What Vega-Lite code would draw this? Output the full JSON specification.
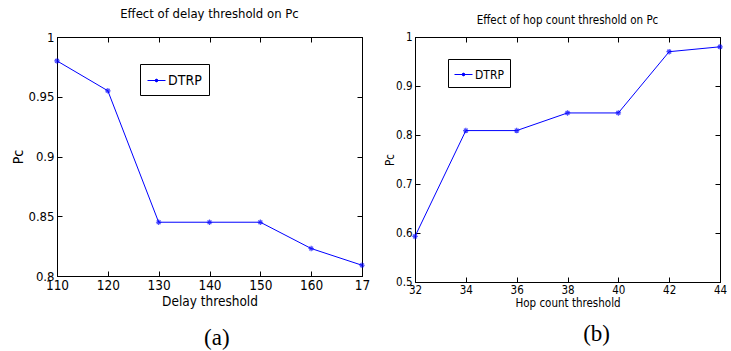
{
  "$schema": "https://vega.github.io/schema/vega-lite/v6.json",
  "background": "white",
  "padding": {"left": 11, "top": 7, "right": 5, "bottom": 0},
  "spacing": 13,
  "resolve": {"scale": {"color": "independent"}, "legend": {"color": "independent"}},
  "config": {
    "view": {"stroke": "black", "strokeWidth": 1},
    "font": "DejaVu Sans Condensed, Liberation Sans, sans-serif",
    "axis": {"grid": false, "domainColor": "black", "tickColor": "black", "labelColor": "black", "titleColor": "black", "labelFont": "DejaVu Sans Condensed, Liberation Sans, sans-serif", "titleFont": "DejaVu Sans Condensed, Liberation Sans, sans-serif", "titleFontWeight": "normal", "tickSize": -5, "labelFlush": false},
    "title": {"font": "DejaVu Sans Condensed, Liberation Sans, sans-serif", "fontWeight": "normal", "color": "black"},
    "legend": {"labelFont": "DejaVu Sans Condensed, Liberation Sans, sans-serif", "labelColor": "black"}
  },
  "hconcat": [
    {
      "title": {"text": "(a)", "orient": "bottom", "anchor": "middle", "font": "Liberation Serif", "fontSize": 23, "dx": 26, "offset": 18},
      "vconcat": [
        {
          "width": 305,
          "height": 239,
          "title": {"text": "Effect of delay threshold on Pc", "fontSize": 13, "offset": 10},
          "data": {"values": [
            {"delay": 110, "pc": 0.98, "series": "DTRP"},
            {"delay": 120, "pc": 0.955, "series": "DTRP"},
            {"delay": 130, "pc": 0.845, "series": "DTRP"},
            {"delay": 140, "pc": 0.845, "series": "DTRP"},
            {"delay": 150, "pc": 0.845, "series": "DTRP"},
            {"delay": 160, "pc": 0.823, "series": "DTRP"},
            {"delay": 170, "pc": 0.809, "series": "DTRP"}
          ]},
          "layer": [
            {
              "mark": {"type": "line", "strokeWidth": 1},
              "encoding": {
                "x": {"field": "delay", "type": "quantitative", "scale": {"domain": [110, 170], "nice": false, "zero": false},
                  "axis": {"title": "Delay threshold", "values": [110, 120, 130, 140, 150, 160, 170], "labelExpr": "datum.value == 170 ? '17' : datum.label", "labelFontSize": 13.5, "titleFontSize": 13.5, "labelPadding": 7, "titlePadding": 3}},
                "y": {"field": "pc", "type": "quantitative", "scale": {"domain": [0.8, 1], "nice": false, "zero": false},
                  "axis": {"title": "Pc", "values": [0.8, 0.85, 0.9, 0.95, 1], "format": "~g", "labelFontSize": 13, "titleFontSize": 14, "labelPadding": 8, "titlePadding": 2}},
                "color": {"field": "series", "type": "nominal", "scale": {"range": ["#0000ff"]},
                  "legend": {"title": null, "orient": "none", "legendX": 83, "legendY": 27, "strokeColor": "black", "fillColor": "white", "padding": 7, "labelFontSize": 14, "symbolType": "M-1,0H1M-0.15,-0.15L0.15,0.15M-0.15,0.15L0.15,-0.15M0,-0.2V0.2", "symbolSize": 324, "symbolStrokeColor": "#0000ff", "symbolFillColor": "transparent", "symbolStrokeWidth": 1, "labelOffset": 2}}
              }
            },
            {
              "mark": {"type": "point", "shape": "M-1,0H1M0,-1V1M-0.7,-0.7L0.7,0.7M-0.7,0.7L0.7,-0.7", "filled": false, "size": 30, "strokeWidth": 1.2},
              "encoding": {
                "x": {"field": "delay", "type": "quantitative", "axis": {"orient": "top", "labels": false, "title": null, "values": [110, 120, 130, 140, 150, 160, 170]}},
                "y": {"field": "pc", "type": "quantitative", "axis": {"orient": "right", "labels": false, "title": null, "values": [0.8, 0.85, 0.9, 0.95, 1]}},
                "color": {"field": "series", "type": "nominal", "legend": null}
              }
            }
          ],
          "resolve": {"axis": {"x": "independent", "y": "independent"}}
        }
      ]
    },
    {
      "title": {"text": "(b)", "orient": "bottom", "anchor": "middle", "font": "Liberation Serif", "fontSize": 23, "dx": 41, "offset": 13},
      "vconcat": [
        {
          "width": 305,
          "height": 245,
          "title": {"text": "Effect of hop count threshold on Pc", "fontSize": 11.5, "offset": 5},
          "data": {"values": [
            {"hop": 32, "pc": 0.593, "series": "DTRP"},
            {"hop": 34, "pc": 0.809, "series": "DTRP"},
            {"hop": 36, "pc": 0.809, "series": "DTRP"},
            {"hop": 38, "pc": 0.845, "series": "DTRP"},
            {"hop": 40, "pc": 0.845, "series": "DTRP"},
            {"hop": 42, "pc": 0.97, "series": "DTRP"},
            {"hop": 44, "pc": 0.98, "series": "DTRP"}
          ]},
          "layer": [
            {
              "mark": {"type": "line", "strokeWidth": 1},
              "encoding": {
                "x": {"field": "hop", "type": "quantitative", "scale": {"domain": [32, 44], "nice": false, "zero": false},
                  "axis": {"title": "Hop count threshold", "values": [32, 34, 36, 38, 40, 42, 44], "labelFontSize": 11.5, "titleFontSize": 11.5, "labelPadding": 7, "titlePadding": 2}},
                "y": {"field": "pc", "type": "quantitative", "scale": {"domain": [0.5, 1], "nice": false, "zero": false},
                  "axis": {"title": "Pc", "values": [0.5, 0.6, 0.7, 0.8, 0.9, 1], "format": "~g", "labelFontSize": 11.5, "titleFontSize": 11.5, "labelPadding": 8, "titlePadding": 0}},
                "color": {"field": "series", "type": "nominal", "scale": {"range": ["#0000ff"]},
                  "legend": {"title": null, "orient": "none", "legendX": 33, "legendY": 22, "strokeColor": "black", "fillColor": "white", "padding": 6, "labelFontSize": 12, "symbolType": "M-1,0H1M-0.15,-0.15L0.15,0.15M-0.15,0.15L0.15,-0.15M0,-0.2V0.2", "symbolSize": 324, "symbolStrokeColor": "#0000ff", "symbolFillColor": "transparent", "symbolStrokeWidth": 1, "labelOffset": 2}}
              }
            },
            {
              "mark": {"type": "point", "shape": "M-1,0H1M0,-1V1M-0.7,-0.7L0.7,0.7M-0.7,0.7L0.7,-0.7", "filled": false, "size": 30, "strokeWidth": 1.2},
              "encoding": {
                "x": {"field": "hop", "type": "quantitative", "axis": {"orient": "top", "labels": false, "title": null, "values": [32, 34, 36, 38, 40, 42, 44]}},
                "y": {"field": "pc", "type": "quantitative", "axis": {"orient": "right", "labels": false, "title": null, "values": [0.5, 0.6, 0.7, 0.8, 0.9, 1]}},
                "color": {"field": "series", "type": "nominal", "legend": null}
              }
            }
          ],
          "resolve": {"axis": {"x": "independent", "y": "independent"}}
        }
      ]
    }
  ]
}
